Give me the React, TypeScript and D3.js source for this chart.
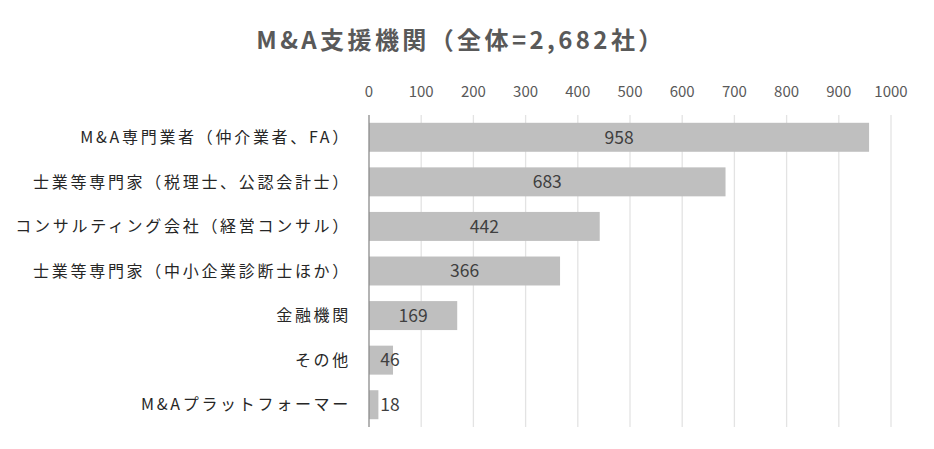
import React from "react";
import * as d3 from "d3";

const categories = [
  "M&A専門業者（仲介業者、FA）",
  "士業等専門家（税理士、公認会計士）",
  "コンサルティング会社（経営コンサル）",
  "士業等専門家（中小企業診断士ほか）",
  "金融機関",
  "その他",
  "M&Aプラットフォーマー",
];
const values = [958, 683, 442, 366, 169, 46, 18];
const tickValues = [0, 100, 200, 300, 400, 500, 600, 700, 800, 900, 1000];
const title = "M&A支援機関（全体=2,682社）";

const W = 934;
const H = 449;
const FONT = "'Noto Sans CJK JP', 'Noto Sans', sans-serif";

export default function App() {
  const x = d3.scaleLinear().domain([0, 1000]).range([369, 891]);
  const y = d3.scaleBand<string>().domain(categories).range([115, 427]).paddingInner(0.35).paddingOuter(0.175);
  const x0 = x(0);
  return (
    <svg width={W} height={H} style={{ position: "absolute", left: 0, top: 0, background: "#fff" }} fontFamily={FONT}>
      <text x={461} y={49} textAnchor="middle" fontSize={24} letterSpacing={3.4} fontWeight="bold" fill="#595959">
        {title}
      </text>
      {tickValues.map((t) => (
        <g key={t}>
          {t > 0 && <line x1={x(t)} x2={x(t)} y1={115} y2={427} stroke="#e3e3e3" strokeWidth={1.3} />}
          <text x={x(t)} y={97} textAnchor="middle" fontSize={15} fill="#595959">
            {t}
          </text>
        </g>
      ))}
      {categories.map((c, i) => {
        const v = values[i];
        const by = y(c)!;
        const bh = y.bandwidth();
        const lx = Math.max((x(v) + x0) / 2, x0 + 21);
        return (
          <g key={c}>
            <rect x={x0} y={by} width={x(v) - x0} height={bh} fill="#bfbfbf" />
            <text x={lx} y={by + bh / 2} dy="0.36em" textAnchor="middle" fontSize={17.5} fill="#404040">
              {v}
            </text>
            <text x={351} y={by + bh / 2} dy="0.36em" textAnchor="end" fontSize={16} letterSpacing={2.7} fill="#262626">
              {c}
            </text>
          </g>
        );
      })}
      <line x1={x0} x2={x0} y1={115} y2={427} stroke="#8c8c8c" strokeWidth={1.3} />
    </svg>
  );
}
